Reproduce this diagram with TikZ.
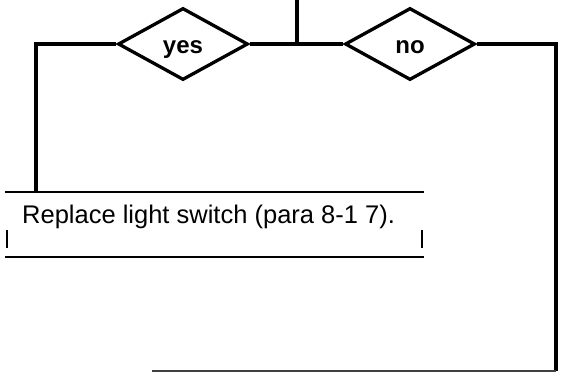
\documentclass[tikz,border=0pt]{standalone}
\usepackage{fontspec}
\setmainfont{Liberation Sans}
\usetikzlibrary{positioning, shapes.geometric}

\begin{document}
\begin{tikzpicture}[
    x=1pt, y=-1pt,
    font=\fontsize{25.5}{30}\selectfont,
    decision/.style={draw, diamond, line width=3.3pt, inner sep=0pt,
        minimum width=130pt, minimum height=72pt, text height=20pt, text depth=2pt,
        font=\fontsize{24}{28}\selectfont\bfseries},
    flow/.style={line width=3.3pt},
    boxline/.style={line width=2.4pt},
    tickline/.style={line width=1.6pt}
]
\useasboundingbox (0,0) rectangle (567,373);

% Decisions
\node[decision] (yes) at (183,44) {yes};
\node[decision] (no) at (410,44) {no};

% Action box
\node[anchor=base west, inner sep=0pt] (replace) at (22,223) {Replace light switch (para 8-1 7).};
\coordinate (boxnw) at (5,192);
\coordinate (boxne) at (424,192);
\coordinate (boxsw) at (5,257);
\coordinate (boxse) at (424,257);
\coordinate (tickla) at (7,230);
\coordinate (ticklb) at (7,248);
\coordinate (tickra) at (422,230);
\coordinate (tickrb) at (422,248);

% Line ends
\coordinate (in) at (297,0);
\coordinate (join) at (297,44);
\coordinate (drop) at (36,192);
\coordinate (out) at (556,371);
\coordinate (end) at (152,371);

% Flow lines
\draw[flow] (in) -- (join);
\draw[flow] (yes) -- (no);
\draw[flow] (yes.west) -| (drop);
\draw[flow] (no.east) -| (out);
\draw[boxline, black!75] (out) -- (end);

% Box rules
\draw[boxline] (boxnw) -- (boxne);
\draw[boxline] (boxsw) -- (boxse);
\draw[tickline] (tickla) -- (ticklb);
\draw[tickline] (tickra) -- (tickrb);

\end{tikzpicture}
\end{document}
